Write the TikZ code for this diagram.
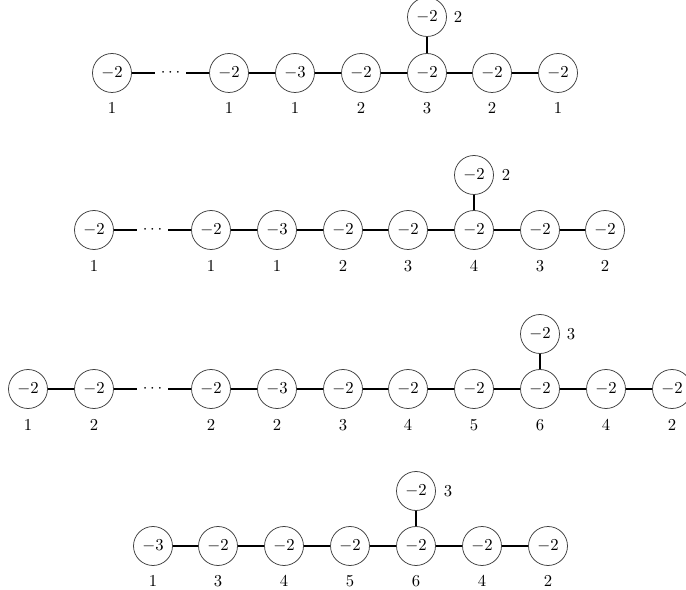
\documentclass[tikz,border=0pt]{standalone}
\begin{document}
\begin{tikzpicture}[x=0.6pt,y=-0.6pt,
  v/.style={circle,draw=black!75,line width=0.45pt,minimum size=23.4pt,inner sep=0pt},
  lab/.style={inner sep=0pt},
  ed/.style={line width=1.1pt},
  dots/.style={fill=white,inner sep=3.3pt}]
\useasboundingbox (0,0) rectangle (686,590);
% Row 1
\foreach \x/\w/\m [count=\i] in {112/-2/1,229/-2/1,295/-3/1,361/-2/2,427/-2/3,492/-2/2,558/-2/1}{
  \node[v] (a\i) at (\x,73) {$\w$};
  \node[lab] (la\i) at (\x,108) {$\m$};
}
\node[v] (at) at (427,17) {$-2$};
\node[lab] (lat) at (458,17) {$2$};
\draw[ed] (a1) -- node[dots] (ad) {$\cdots$} (a2);
\foreach \i/\j in {2/3,3/4,4/5,5/6,6/7}{\draw[ed] (a\i) -- (a\j);}
\draw[ed] (at) -- (a5);
% Row 2
\foreach \x/\w/\m [count=\i] in {94/-2/1,211/-2/1,277/-3/1,343/-2/2,408/-2/3,474/-2/4,540/-2/3,605/-2/2}{
  \node[v] (b\i) at (\x,230) {$\w$};
  \node[lab] (lb\i) at (\x,266) {$\m$};
}
\node[v] (bt) at (474,175) {$-2$};
\node[lab] (lbt) at (506,175) {$2$};
\draw[ed] (b1) -- node[dots] (bd) {$\cdots$} (b2);
\foreach \i/\j in {2/3,3/4,4/5,5/6,6/7,7/8}{\draw[ed] (b\i) -- (b\j);}
\draw[ed] (bt) -- (b6);
% Row 3
\foreach \x/\w/\m [count=\i] in {28/-2/1,94/-2/2,211/-2/2,277/-3/2,343/-2/3,408/-2/4,474/-2/5,540/-2/6,606/-2/4,672/-2/2}{
  \node[v] (c\i) at (\x,389) {$\w$};
  \node[lab] (lc\i) at (\x,425) {$\m$};
}
\node[v] (ct) at (540,334) {$-2$};
\node[lab] (lct) at (571,334) {$3$};
\draw[ed] (c2) -- node[dots] (cd) {$\cdots$} (c3);
\foreach \i/\j in {1/2,3/4,4/5,5/6,6/7,7/8,8/9,9/10}{\draw[ed] (c\i) -- (c\j);}
\draw[ed] (ct) -- (c8);
% Row 4
\foreach \x/\w/\m [count=\i] in {153/-3/1,218/-2/3,284/-2/4,350/-2/5,416/-2/6,482/-2/4,548/-2/2}{
  \node[v] (d\i) at (\x,546) {$\w$};
  \node[lab] (ld\i) at (\x,581) {$\m$};
}
\node[v] (dt) at (416,491) {$-2$};
\node[lab] (ldt) at (448,491) {$3$};
\foreach \i/\j in {1/2,2/3,3/4,4/5,5/6,6/7}{\draw[ed] (d\i) -- (d\j);}
\draw[ed] (dt) -- (d5);
\end{tikzpicture}
\end{document}
